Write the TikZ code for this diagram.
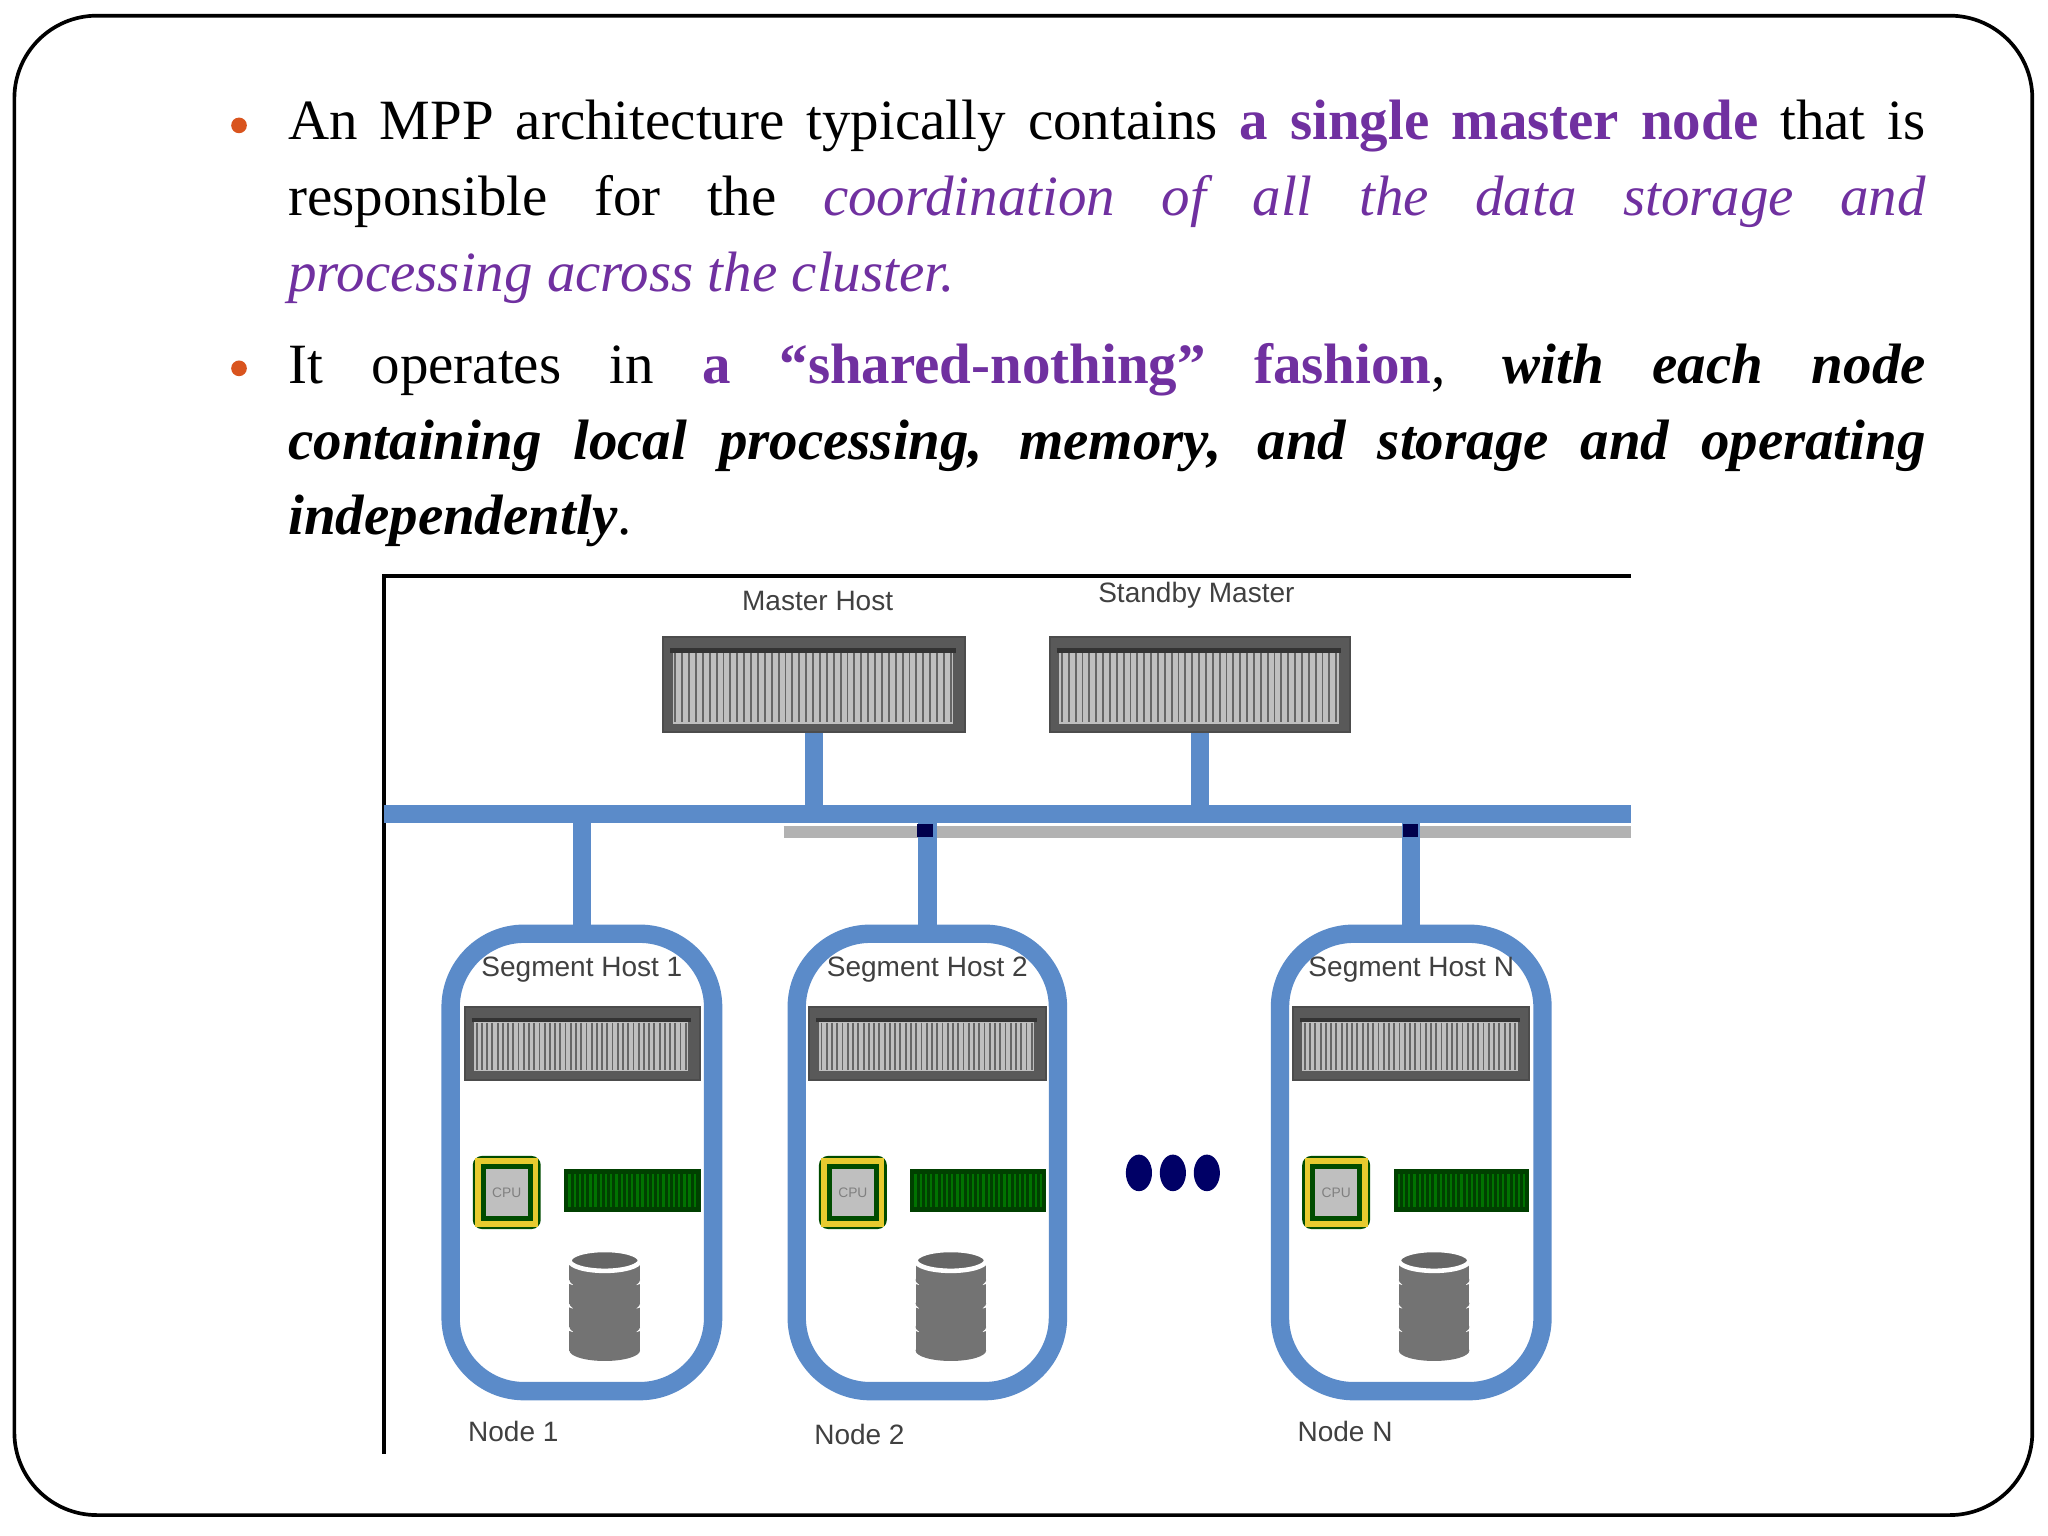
\documentclass[tikz,border=0pt]{standalone}
\usepackage{fontspec}
\setmainfont{Liberation Serif}
\newfontfamily\labfont{Liberation Sans}
\definecolor{pur}{HTML}{7030A0}
\definecolor{bus}{HTML}{5B8BC9}
\definecolor{bul}{HTML}{D9541E}
\newcommand{\myserver}[5]{% name x1 y1 x2 y2
  \node[draw=black!70,fill=black!65,minimum width={(#4-#2)*0.01cm},minimum height={(#5-#3)*0.01cm},inner sep=0,anchor=north west] (#1) at (#2,#3) {};
  \fill[black!25] (#2+8,#3+12) rectangle (#4-8,#5-6);
  \foreach \xx in {0,...,40}{\pgfmathsetmacro\px{#2+10+\xx*(#4-#2-20)/40}\draw[black!60,line width=0.4pt] (\px,#3+13) -- (\px,#5-7);}
  \draw[black!80,line width=1pt] (#2+6,#3+11) -- (#4-6,#3+11);
}
\newcommand{\mycpu}[2]{%
  \fill[green!30!black,rounded corners=2pt] (#1-26,#2-28) rectangle (#1+26,#2+28);
  \draw[yellow!60!brown,line width=1.2pt] (#1-22,#2-24) rectangle (#1+22,#2+24);
  \fill[black!25] (#1-16,#2-18) rectangle (#1+16,#2+18);
  \node[font=\labfont\fontsize{3}{3}\selectfont,text=black!50] at (#1,#2) {CPU};
}
\newcommand{\myram}[4]{%
  \fill[green!25!black] (#1,#2) rectangle (#3,#4);
  \foreach \xx in {0,...,24}{\draw[green!45!black,line width=0.5pt] (#1+4+\xx*4,#2+4) -- (#1+4+\xx*4,#4-4);}
}
\newcommand{\mydisk}[2]{%
  \foreach \k in {3,2,1,0}{
    \fill[black!55] (#1-27,#2-20+\k*18) rectangle (#1+27,#2-5+\k*18);
    \fill[black!55] (#1,#2-5+\k*18) ellipse (27 and 8);
    \draw[white,line width=1.5pt] (#1-27,#2-20+\k*18) arc (180:360:27 and 8);
  }
  \fill[black!60] (#1,#2-20) ellipse (27 and 8);
  \draw[white,line width=1pt] (#1,#2-20) ellipse (27 and 8);
}
\begin{document}
\begin{tikzpicture}[x=0.01cm,y=-0.01cm,
  lbl/.style={font=\labfont\fontsize{6.1}{7}\selectfont,text=black!75},
  para/.style={anchor=north west,text width=12.53cm,align=justify,inner sep=0,font=\fontsize{12.4}{16.5}\selectfont},
  seg/.style={draw=bus,line width=4pt,rounded corners=16pt},
  busl/.style={bus,line width=4pt}]
\useasboundingbox (0,0) rectangle (1568,1176);
\draw[line width=0.8pt,rounded corners=18pt] (11,12) rectangle (1556,1160);
% text
\fill[bul] (183,96) circle (6);
\fill[bul] (183,282) circle (6);
\node[para] (t1) at (220,76)
{\hyphenpenalty=10000 An MPP architecture typically contains \textbf{\color{pur}a single master node} that is\linebreak responsible for the \textit{\color{pur}coordination of all the data storage and\linebreak processing across the cluster.}};
\node[para] (t2) at (220,262)
{\hyphenpenalty=10000 It operates in \textbf{\color{pur}a “shared-nothing” fashion}, \textbf{\textit{with each node\linebreak containing local processing, memory, and storage and operating\linebreak independently}}.};
% frame
\draw[line width=0.8pt] (294,1113) -- (294,441) -- (1249,441);
% bus
\coordinate (bL) at (294,623); \coordinate (bR) at (1249,623);
\draw[black!30,line width=2.5pt] (600,637) -- (1249,637);
\draw[busl] (bL) -- (bR);
% masters
\node[lbl] (ml) at (626,460) {Master Host};
\node[lbl] (sl) at (916,456) {Standby Master};
\myserver{m}{507}{487}{738}{560}
\myserver{s}{803}{487}{1033}{560}
\draw[busl] (m.south) -- (m.south |- bL);
\draw[busl] (s.south) -- (s.south |- bL);
% segments
\foreach \n/\xa/\xb/\st/\ny/\nl in {1/338/553/Segment Host 1/1096/Node 1, 2/603/817/Segment Host 2/1098/Node 2, N/973/1188/Segment Host N/1096/Node N}{
  \node[seg,minimum width={(\xb-\xa-14)*0.01cm},minimum height=3.50cm] (b\n) at ({(\xa+\xb)/2},890) {};
  \node[lbl] (l\n) at ({(\xa+\xb)/2},742) {\st};
  \node[lbl,anchor=west] (n\n) at (\xa+8,\ny) {\nl};
  \draw[busl] (b\n.north) -- (b\n.north |- bL);
}
\fill[blue!30!black] (702,631) rectangle (714,641);
\fill[blue!30!black] (1074,631) rectangle (1086,641);
\myserver{s1}{355}{770}{535}{826}
\myserver{s2}{619}{770}{800}{826}
\myserver{s3}{989}{770}{1170}{826}
\mycpu{388}{913}\mycpu{653}{913}\mycpu{1023}{913}
\myram{432}{895}{537}{928}\myram{697}{895}{801}{928}\myram{1067}{895}{1171}{928}
\mydisk{463}{985}\mydisk{728}{985}\mydisk{1098}{985}
\foreach \x in {872,898,924}{\fill[blue!40!black] (\x,898) ellipse (10 and 14);}
\end{tikzpicture}
\end{document}
